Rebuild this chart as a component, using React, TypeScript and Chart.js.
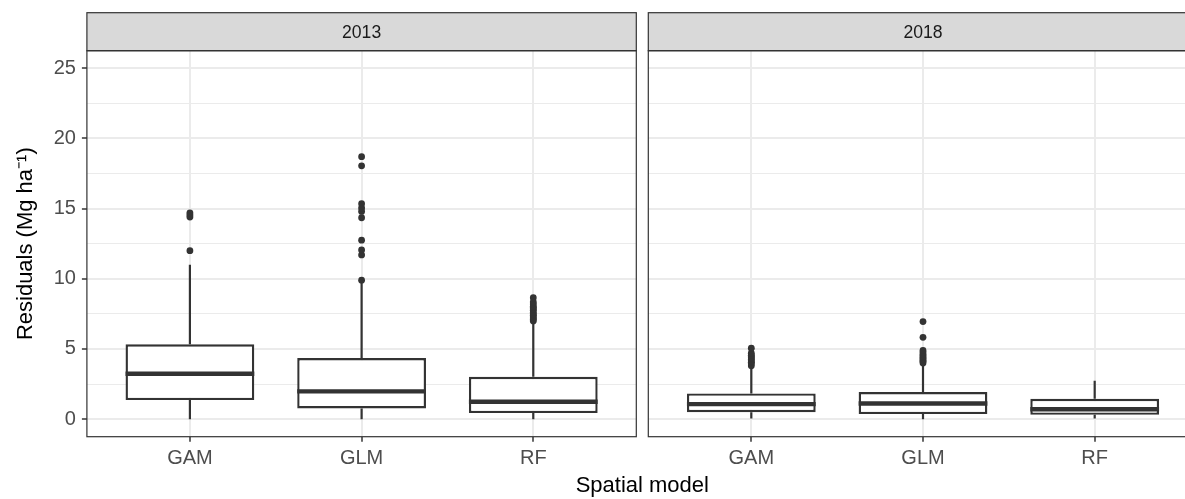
import React, { useEffect, useRef } from 'react';
import { Chart, registerables } from 'chart.js';

Chart.register(...registerables);

// ---------- data ----------
const models = ['GAM', 'GLM', 'RF'];
const yTickValues = [0, 5, 10, 15, 20, 25];
const yTickLabels = ['0', '5', '10', '15', '20', '25'];
const yMinorValues = [2.5, 7.5, 12.5, 17.5, 22.5];

// 2013 box statistics (GAM, GLM, RF)
const lower2013 = [0, 0, 0];
const q1_2013 = [1.36, 0.76, 0.43];
const median2013 = [3.23, 1.98, 1.24];
const q3_2013 = [5.33, 4.35, 3.02];
const upper2013 = [11.0, 9.7, 6.94];
const outGAM2013 = [12.0, 14.4, 14.55, 14.7];
const outGLM2013 = [9.9, 11.7, 12.05, 12.75, 14.35, 14.8, 15.05, 15.35, 18.05, 18.7];
const outRF2013 = [7.0, 7.1, 7.2, 7.3, 7.4, 7.5, 7.6, 7.75, 7.85, 7.95, 8.05, 8.2, 8.35, 8.65];

// 2018 box statistics (GAM, GLM, RF)
const lower2018 = [0.05, 0, 0.05];
const q1_2018 = [0.5, 0.36, 0.31];
const median2018 = [1.07, 1.12, 0.71];
const q3_2018 = [1.83, 1.93, 1.45];
const upper2018 = [3.72, 3.9, 2.73];
const outGAM2018 = [3.8, 3.95, 4.05, 4.15, 4.25, 4.35, 4.45, 4.55, 4.7, 5.05];
const outGLM2018 = [4.0, 4.1, 4.2, 4.3, 4.4, 4.5, 4.6, 4.75, 4.9, 5.83, 6.95];
const outRF2018: number[] = [];

// ---------- style ----------
const FONT = '"Liberation Sans", Arial, Helvetica, sans-serif';
const INK = '#333333';
const GRID = '#EBEBEB';
const BOX_WIDTH = 0.75;

type PanelData = {
  label: string;
  lower: number[];
  q1: number[];
  median: number[];
  q3: number[];
  upper: number[];
  outliers: number[][];
};

const panel2013: PanelData = {
  label: '2013',
  lower: lower2013,
  q1: q1_2013,
  median: median2013,
  q3: q3_2013,
  upper: upper2013,
  outliers: [outGAM2013, outGLM2013, outRF2013],
};
const panel2018: PanelData = {
  label: '2018',
  lower: lower2018,
  q1: q1_2018,
  median: median2018,
  q3: q3_2018,
  upper: upper2018,
  outliers: [outGAM2018, outGLM2018, outRF2018],
};

const facetPlugin = {
  id: 'facet',
  afterDraw(chart: any, _args: any, opts: any) {
    const { ctx, chartArea } = chart;
    const { left, right, top, bottom } = chartArea;
    ctx.save();
    const stripTop = opts.stripTop;
    ctx.fillStyle = '#D9D9D9';
    ctx.fillRect(left, stripTop, right - left, top - stripTop);
    ctx.strokeStyle = INK;
    ctx.lineWidth = 1.2;
    ctx.strokeRect(left, stripTop, right - left, top - stripTop);
    ctx.fillStyle = '#1A1A1A';
    ctx.font = `17.6px ${FONT}`;
    ctx.textAlign = 'center';
    ctx.textBaseline = 'middle';
    ctx.fillText(opts.label, (left + right) / 2, (stripTop + top) / 2 + 1.5);
    ctx.strokeStyle = INK;
    ctx.lineWidth = 1.2;
    ctx.strokeRect(left, top, right - left, bottom - top);
    ctx.restore();
  },
};

function buildConfig(p: PanelData, showY: boolean, pad: any, yWidth: number, xHeight: number): any {
  const medianData: any[] = [];
  const whiskerData: any[] = [];
  const boxData: any[] = [];
  const pointData: any[] = [];
  models.forEach((_m, i) => {
    const x = i + 1;
    medianData.push({ x: x - BOX_WIDTH / 2, y: p.median[i] }, { x: x + BOX_WIDTH / 2, y: p.median[i] }, { x, y: null });
    whiskerData.push(
      { x, y: p.lower[i] }, { x, y: p.q1[i] }, { x, y: null },
      { x, y: p.q3[i] }, { x, y: p.upper[i] }, { x, y: null }
    );
    boxData.push({ x, y: [p.q1[i], p.q3[i]] });
    p.outliers[i].forEach((v) => pointData.push({ x, y: v }));
  });

  const isMajor = (ctx: any) => ctx.tick && yTickValues.includes(ctx.tick.value);

  return {
    type: 'scatter',
    data: {
      datasets: [
        {
          type: 'line',
          data: medianData,
          borderColor: INK,
          borderWidth: 4.4,
          pointRadius: 0,
          spanGaps: false,
          order: 0,
        },
        {
          type: 'scatter',
          data: pointData,
          pointRadius: 3.4,
          pointBackgroundColor: INK,
          pointBorderWidth: 0,
          order: 1,
        },
        {
          type: 'line',
          data: whiskerData,
          borderColor: INK,
          borderWidth: 2.2,
          pointRadius: 0,
          spanGaps: false,
          order: 2,
        },
        {
          type: 'bar',
          data: boxData,
          backgroundColor: '#FFFFFF',
          borderColor: INK,
          borderWidth: 2.4,
          borderSkipped: false,
          categoryPercentage: BOX_WIDTH,
          barPercentage: 1,
          grouped: false,
          order: 3,
        },
      ],
    },
    options: {
      responsive: false,
      animation: false,
      devicePixelRatio: 1,
      layout: { padding: pad },
      plugins: {
        legend: { display: false },
        tooltip: { enabled: false },
        facet: { label: p.label, stripTop: 12.7 },
      },
      scales: {
        x: {
          type: 'linear',
          min: 0.4,
          max: 3.6,
          offset: false,
          afterBuildTicks: (scale: any) => {
            scale.ticks = models.map((_m, i) => ({ value: i + 1 }));
          },
          afterFit: (scale: any) => {
            scale.height = xHeight;
          },
          border: { display: false },
          grid: {
            offset: false,
            color: GRID,
            lineWidth: 2,
            tickLength: 5,
            tickColor: INK,
            tickWidth: 1.5,
          },
          ticks: {
            autoSkip: false,
            maxRotation: 0,
            padding: 5,
            color: '#4D4D4D',
            font: { family: FONT, size: 20 },
            callback: (v: number) => models[Math.round(v) - 1] ?? '',
          },
        },
        y: {
          type: 'linear',
          min: -1.25,
          max: 26.25,
          afterBuildTicks: (scale: any) => {
            scale.ticks = [...yTickValues, ...yMinorValues]
              .sort((a, b) => a - b)
              .map((v) => ({ value: v }));
          },
          afterFit: (scale: any) => {
            scale.width = yWidth;
          },
          border: { display: false },
          grid: {
            offset: false,
            color: GRID,
            lineWidth: (ctx: any) => (isMajor(ctx) ? 2 : 1),
            drawTicks: showY,
            tickLength: 5,
            tickColor: (ctx: any) => (isMajor(ctx) ? INK : 'rgba(0,0,0,0)'),
            tickWidth: 1.5,
          },
          ticks: {
            display: showY,
            autoSkip: false,
            padding: 6,
            color: '#4D4D4D',
            font: { family: FONT, size: 20 },
            callback: (v: number) => {
              const k = yTickValues.indexOf(v);
              return k >= 0 ? yTickLabels[k] : '';
            },
          },
          title: {
            display: showY,
            text: 'Residuals (Mg ha⁻¹)',
            color: '#000000',
            font: { family: FONT, size: 22 },
            padding: { top: 13, bottom: 0 },
          },
        },
      },
    },
    plugins: [facetPlugin],
  };
}

function FacetChart(props: {
  panel: PanelData;
  showY: boolean;
  left: number;
  width: number;
  pad: any;
  yWidth: number;
}) {
  const ref = useRef<HTMLCanvasElement | null>(null);
  useEffect(() => {
    if (!ref.current) return;
    const chart = new Chart(
      ref.current,
      buildConfig(props.panel, props.showY, props.pad, props.yWidth, 499 - 436.7)
    );
    return () => chart.destroy();
  }, []);
  return (
    <canvas
      ref={ref}
      width={props.width}
      height={499}
      style={{ position: 'absolute', left: props.left, top: 0, width: props.width, height: 499 }}
    />
  );
}

export default function App() {
  return (
    <div
      style={{
        position: 'absolute',
        left: 0,
        top: 0,
        width: 1185,
        height: 499,
        overflow: 'hidden',
        background: '#FFFFFF',
      }}
    >
      <FacetChart
        panel={panel2013}
        showY={true}
        left={0}
        width={642}
        pad={{ top: 50.7, right: 5.7, bottom: 0, left: 0 }}
        yWidth={86.9}
      />
      <FacetChart
        panel={panel2018}
        showY={false}
        left={642}
        width={561}
        pad={{ top: 50.7, right: 5.3, bottom: 0, left: 6.3 }}
        yWidth={0}
      />
      <div
        style={{
          position: 'absolute',
          left: 442.3,
          width: 400,
          top: 474,
          textAlign: 'center',
          fontFamily: FONT,
          fontSize: 22,
          lineHeight: '22px',
          color: '#000000',
          whiteSpace: 'nowrap',
        }}
      >
        Spatial model
      </div>
    </div>
  );
}
